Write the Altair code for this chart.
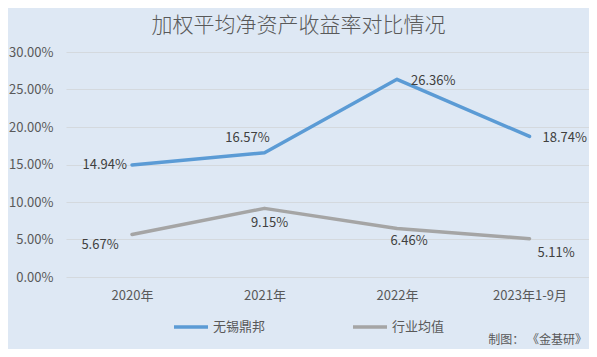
import altair as alt
import pandas as pd

periods = ["2020年", "2021年", "2022年", "2023年1-9月"]
company = [0.1494, 0.1657, 0.2636, 0.1874]
industry = [0.0567, 0.0915, 0.0646, 0.0511]
series_names = ["无锡鼎邦", "行业均值"]
colors = ["#5B9BD5", "#A5A5A5"]
y_ticks = [0, 0.05, 0.10, 0.15, 0.20, 0.25, 0.30]

rows = []
for p, a, b in zip(periods, company, industry):
    rows.append({"period": p, "series": series_names[0], "value": a})
    rows.append({"period": p, "series": series_names[1], "value": b})
df = pd.DataFrame(rows)

FONT = "Noto Sans CJK SC"
BG = "#DEE8F4"

x_scale = alt.Scale(type="point", padding=0.4736, align=0.526)

x_axis = alt.Axis(labelAngle=0, labelFontSize=13, labelColor="#595959",
                  labelFont=FONT, domain=False, ticks=False, labelPadding=12,
                  grid=False, labelOverlap=False)
y_axis = alt.Axis(format=".2%", values=y_ticks, tickCount=7,
                  labelFontSize=13, labelColor="#595959", labelFont=FONT,
                  domain=False, ticks=False, labelPadding=13,
                  labelOverlap=False, labelSeparation=0,
                  gridColor="#D4D9DE", gridWidth=1)

x_enc = alt.X("period:N", sort=periods, title=None, scale=x_scale, axis=x_axis)
y_enc = alt.Y("value:Q", title=None,
              scale=alt.Scale(domain=[0, 0.30], nice=False), axis=y_axis)

base = alt.Chart(df)

lines = base.mark_line(strokeWidth=3.5, strokeCap="round", strokeJoin="round").encode(
    x=x_enc, y=y_enc,
    color=alt.Color("series:N", sort=series_names,
                    scale=alt.Scale(domain=series_names, range=colors),
                    legend=alt.Legend(title=None, orient="none", direction="horizontal",
                                      legendX=106, legendY=256,
                                      symbolType="stroke", symbolStrokeWidth=3.5,
                                      symbolSize=1156, labelFontSize=13,
                                      labelColor="#595959", labelFont=FONT,
                                      labelOffset=3, columnPadding=80)),
)


def label(series, period, align, dx, dy, baseline="middle"):
    return base.transform_filter(
        (alt.datum.series == series) & (alt.datum.period == period)
    ).mark_text(align=align, baseline=baseline, dx=dx, dy=dy, fontSize=13,
                font=FONT, color="#404040").encode(
        x=x_enc,
        y=y_enc,
        text=alt.Text("value:Q", format=".2%"),
    )


labels = [
    label(series_names[0], periods[0], "right", -5, 0),
    label(series_names[0], periods[1], "center", -17, -15),
    label(series_names[0], periods[2], "left", 14, 2),
    label(series_names[0], periods[3], "left", 13, 2),
    label(series_names[1], periods[0], "center", -32, 11),
    label(series_names[1], periods[1], "center", 5, 15),
    label(series_names[1], periods[2], "center", 12, 12),
    label(series_names[1], periods[3], "left", 8, 14),
]

credit = alt.Chart(pd.DataFrame({"t": ["制图： 《金基研》"]})).mark_text(
    align="right", baseline="middle", fontSize=12, font=FONT, color="#595959"
).encode(x=alt.value(521), y=alt.value(288), text="t:N")

chart = alt.layer(lines, *labels, credit).properties(
    width=523, height=225,
    padding={"left": 58, "top": 44, "right": 0, "bottom": 72},
    autosize=alt.AutoSizeParams(type="none"),
    background=BG,
    title=alt.Title("加权平均净资产收益率对比情况", fontSize=21, font=FONT,
                    color="#595959", fontWeight=300, anchor="middle",
                    dx=-29, offset=10),
).configure_view(stroke=None).configure_axisY(labelOverlap=False)

chart.save("out.html", embed_options={"renderer": "svg", "actions": False})
